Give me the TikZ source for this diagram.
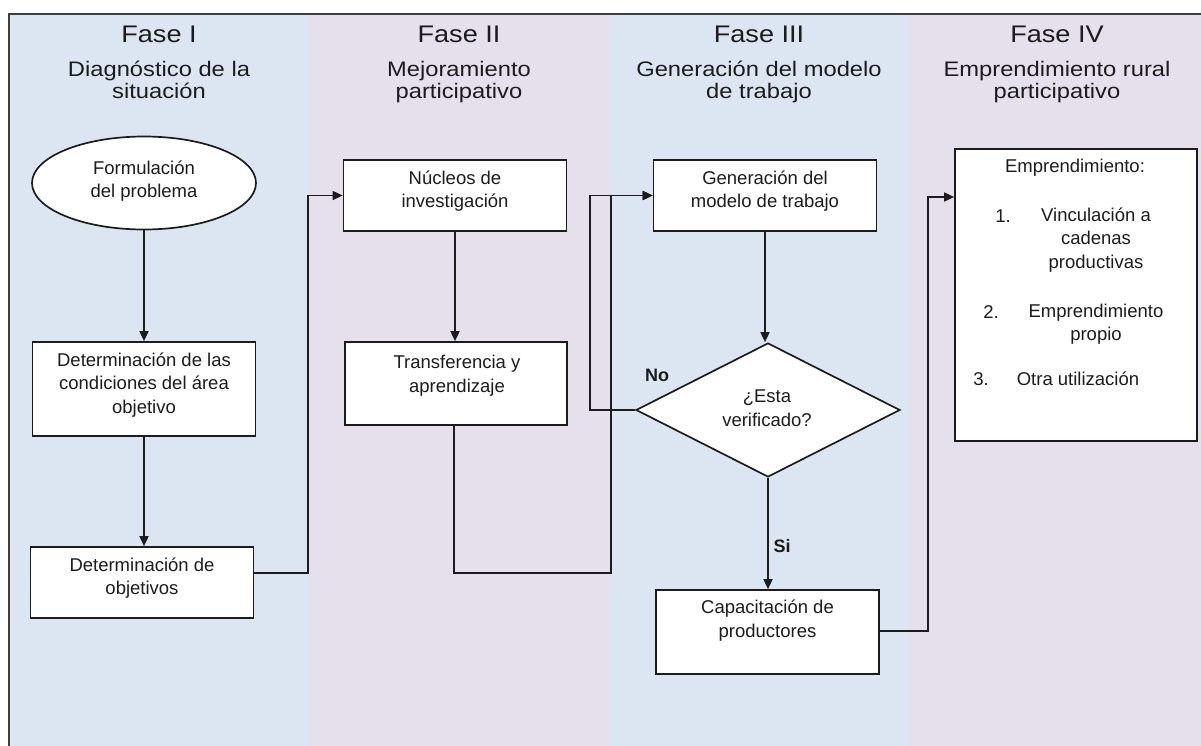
\documentclass[tikz,border=0pt]{standalone}
\usepackage{fontspec}
\setmainfont{Liberation Sans}
\newfontfamily\headfont{Liberation Sans}[FakeStretch=1.13]
\usetikzlibrary{arrows.meta,shapes.geometric}
\definecolor{laneA}{HTML}{DCE6F2}
\definecolor{laneB}{HTML}{E5E0EC}
\definecolor{ink}{HTML}{1C1C1C}
\begin{document}
\begin{tikzpicture}[x=1bp,y=-1bp,
  box/.style={draw=ink, line width=1.7bp, fill=white, rectangle, inner sep=0pt},
  txt/.style={font=\fontsize{18.5bp}{23.5bp}\selectfont, align=center, text=ink, inner sep=0pt},
  phase/.style={font=\headfont\fontsize{24bp}{28bp}\selectfont, text=ink, inner sep=0pt, anchor=base},
  sub/.style={font=\headfont\fontsize{21bp}{22bp}\selectfont, text=ink, inner sep=0pt, anchor=base},
  tag/.style={font=\fontsize{18bp}{22bp}\selectfont\bfseries, text=ink, inner sep=0pt},
  flow/.style={draw=ink, line width=1.7bp, -{Triangle[length=10bp,width=9bp]}},
]
\useasboundingbox (0,0) rectangle (1201,746);

% swimlanes
\fill[laneA] (9,14) rectangle (309,746);
\fill[laneB] (309,14) rectangle (609,746);
\fill[laneA] (609,14) rectangle (909,746);
\fill[laneB] (909,14) rectangle (1201,746);
\draw[ink!85, line width=1.4bp] (9,746) -- (9,14) -- (1201,14);

% lane headings
\node[phase] (p1) at (159,43) {Fase I};
\node[sub] (s1a) at (159,77) {Diagnóstico de la};
\node[sub] (s1b) at (159,99) {situación};
\node[phase] (p2) at (459,43) {Fase II};
\node[sub] (s2a) at (459,77) {Mejoramiento};
\node[sub] (s2b) at (459,99) {participativo};
\node[phase] (p3) at (759,43) {Fase III};
\node[sub] (s3a) at (759,77) {Generación del modelo};
\node[sub] (s3b) at (759,99) {de trabajo};
\node[phase] (p4) at (1057,43) {Fase IV};
\node[sub] (s4a) at (1057,77) {Emprendimiento rural};
\node[sub] (s4b) at (1057,99) {participativo};

% shapes
\node[ellipse, draw=ink, line width=1.7bp, fill=white, inner sep=0pt,
      minimum width=224bp, minimum height=93bp] (form) at (144,183) {};
\node[box, minimum width=223bp, minimum height=94bp] (cond) at (144,389) {};
\node[box, minimum width=223bp, minimum height=71bp] (obj) at (142,582.5) {};
\node[box, minimum width=223bp, minimum height=71bp] (nuc) at (455,195.5) {};
\node[box, minimum width=222bp, minimum height=83bp] (trans) at (456,383.5) {};
\node[box, minimum width=223bp, minimum height=71bp] (gen) at (765,195.5) {};
\node[diamond, draw=ink, line width=1.7bp, fill=white, inner sep=0pt,
      minimum width=264bp, minimum height=134bp] (dia) at (768,410) {};
\node[box, minimum width=223bp, minimum height=84bp] (cap) at (767.5,632) {};
\node[box, minimum width=242bp, minimum height=292bp] (emp) at (1076,295) {};

% texts
\node[txt] (formT) at (144,181) {Formulación\\del problema};
\node[txt] (condT) at (144,385) {Determinación de las\\condiciones del área\\objetivo};
\node[txt] (objT) at (142,578) {Determinación de\\objetivos};
\node[txt] (nucT) at (455,191) {Núcleos de\\investigación};
\node[txt] (transT) at (457,375.5) {Transferencia y\\aprendizaje};
\node[txt] (genT) at (765,191) {Generación del\\modelo de trabajo};
\node[txt] (diaT) at (767,408) {¿Esta\\verificado?};
\node[txt] (capT) at (767.5,620.5) {Capacitación de\\productores};

\node[txt] (e0) at (1075,168) {Emprendimiento:};
\node[txt] (e1n) at (1003,216) {1.};
\node[txt] (e1) at (1096,240) {Vinculación a\\cadenas\\productivas};
\node[txt] (e2n) at (991,312) {2.};
\node[txt] (e2) at (1096,324) {Emprendimiento\\propio};
\node[txt] (e3n) at (981,379) {3.};
\node[txt] (e3) at (1078,379) {Otra utilización};

% connectors
\coordinate (r1) at (308,573);
\coordinate (r2) at (611,573);
\coordinate (r3) at (928,631);
\draw[flow] (form.south) -- (form.south |- cond.north);
\draw[flow] (cond.south) -- (cond.south |- obj.north);
\draw[flow] (obj.east |- r1) -- (r1) |- (nuc.west);
\draw[flow] ([xshift=-2bp]trans.south) -- ([xshift=-2bp]trans.south |- r2) -- (r2) |- (gen.west);
\draw[flow] (nuc.south) -- (nuc.south |- trans.north);
\draw[flow] (gen.south) -- (gen.south |- dia.north);
\draw[flow] (dia.west) -- ++(-45,0) |- (gen.west);
\draw[flow] (dia.south) -- (dia.south |- cap.north);
\draw[flow] (cap.east |- r3) -- (r3) |- ([yshift=98bp]emp.west);

\node[tag] (no) at (657,375) {No};
\node[tag] (si) at (782,546) {Si};
\end{tikzpicture}
\end{document}
